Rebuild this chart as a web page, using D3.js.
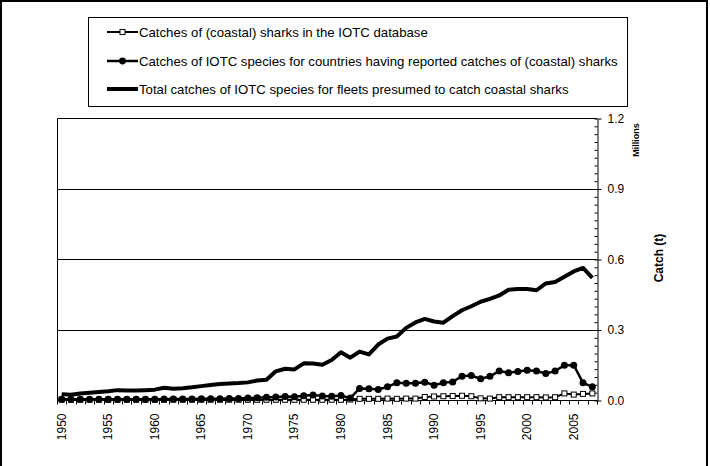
<!DOCTYPE html>
<html>
<head>
<meta charset="utf-8">
<script src="https://cdn.jsdelivr.net/npm/d3@7"></script>
<style>
  body { margin: 0; background: #fff; }
  svg { display: block; font-family: "Liberation Sans", Arial, sans-serif; }
</style>
</head>
<body>
<div id="chart"></div>
<script>
const years = d3.range(1950, 2008);

// catches in millions of tonnes
const coastalSharks = [
  0.001, 0.001, 0.001, 0.001, 0.001, 0.001, 0.001, 0.001, 0.001, 0.001,
  0.001, 0.001, 0.001, 0.001, 0.001, 0.001, 0.001, 0.001, 0.001, 0.001,
  0.001, 0.001, 0.001, 0.001, 0.001, 0.001, 0.001, 0.001, 0.001, 0.001,
  0.001, 0.002, 0.005, 0.005, 0.005, 0.006, 0.005, 0.006, 0.006, 0.013,
  0.015, 0.016, 0.017, 0.018, 0.016, 0.007, 0.006, 0.012, 0.012, 0.012,
  0.012, 0.012, 0.011, 0.012, 0.028, 0.023, 0.026, 0.028
];
const reportingCountries = [
  0.003, 0.003, 0.003, 0.003, 0.003, 0.003, 0.003, 0.003, 0.003, 0.003,
  0.003, 0.004, 0.004, 0.004, 0.004, 0.005, 0.005, 0.005, 0.006, 0.006,
  0.008, 0.010, 0.012, 0.013, 0.015, 0.014, 0.018, 0.021, 0.017, 0.016,
  0.019, 0.008, 0.049, 0.048, 0.045, 0.056, 0.073, 0.071, 0.071, 0.076,
  0.063, 0.073, 0.077, 0.101, 0.104, 0.090, 0.101, 0.123, 0.116, 0.121,
  0.127, 0.123, 0.113, 0.123, 0.148, 0.148, 0.073, 0.056
];
const presumedFleets = [
  0.025, 0.022, 0.028, 0.031, 0.034, 0.037, 0.042, 0.040, 0.040, 0.042,
  0.044, 0.052, 0.048, 0.050, 0.054, 0.059, 0.064, 0.068, 0.070, 0.072,
  0.075, 0.083, 0.086, 0.122, 0.133, 0.130, 0.156, 0.155, 0.150, 0.170,
  0.203, 0.180, 0.206, 0.194, 0.236, 0.261, 0.270, 0.307, 0.330, 0.345,
  0.334, 0.329, 0.357, 0.382, 0.399, 0.418, 0.430, 0.445, 0.469, 0.472,
  0.472, 0.467, 0.496, 0.502, 0.524, 0.547, 0.562, 0.520
];
const yTicks = [0, 0.3, 0.6, 0.9, 1.2];
const seriesNames = [
  "Catches of (coastal) sharks in the IOTC database",
  "Catches of IOTC species for countries having reported catches of (coastal) sharks",
  "Total catches of IOTC species for fleets presumed to catch coastal sharks"
];

const width = 710, height = 466;
const plot = { left: 57, right: 597, top: 118, bottom: 400 };

const svg = d3.select("#chart").append("svg")
  .attr("width", width)
  .attr("height", height);

// outer frame
svg.append("rect")
  .attr("x", 1).attr("y", 1)
  .attr("width", 706).attr("height", 470)
  .attr("fill", "none")
  .attr("stroke", "#000")
  .attr("stroke-width", 2);

const x = d3.scaleBand().domain(years).range([plot.left, plot.right]);
const y = d3.scaleLinear().domain([0, 1.2]).range([plot.bottom, plot.top]);
const cx = d => x(d) + x.bandwidth() / 2;

// gridlines
svg.append("g")
  .selectAll("line")
  .data(yTicks.filter(t => t > 0 && t < 1.2))
  .join("line")
  .attr("x1", plot.left).attr("x2", plot.right)
  .attr("y1", d => Math.round(y(d)) + 0.5)
  .attr("y2", d => Math.round(y(d)) + 0.5)
  .attr("stroke", "#000")
  .attr("stroke-width", 1);

// plot frame (left + top)
svg.append("path")
  .attr("d", `M${plot.left + 0.5},${plot.bottom}V${plot.top + 0.5}H${plot.right}`)
  .attr("fill", "none")
  .attr("stroke", "#000");

// right axis, minor ticks inside
svg.append("g")
  .attr("transform", `translate(${plot.right + 0.5},0.5)`)
  .call(d3.axisRight(y).tickValues(d3.range(0, 37).map(i => i * 1.2 / 36)).tickSize(-3).tickFormat(""))
  .call(g => g.select(".domain").remove());

const yAxis = svg.append("g")
  .attr("transform", `translate(${plot.right + 0.5},0.5)`)
  .call(d3.axisRight(y).tickValues(yTicks).tickSizeInner(4).tickSizeOuter(0).tickPadding(6).tickFormat(d3.format(".1f")));
yAxis.selectAll("text").attr("font-size", 12).attr("fill", "#000").attr("font-family", null);
yAxis.select(".domain").attr("stroke", "#000");

// bottom axis
const xAxis = svg.append("g")
  .attr("transform", `translate(0,${plot.bottom + 0.5})`);
xAxis.append("line")
  .attr("x1", plot.left).attr("x2", plot.right)
  .attr("stroke", "#000");
xAxis.selectAll(".tick")
  .data(years.concat([2008]))
  .join("line")
  .attr("class", "tick")
  .attr("x1", d => Math.round(d === 2008 ? plot.right : x(d)) + 0.5)
  .attr("x2", d => Math.round(d === 2008 ? plot.right : x(d)) + 0.5)
  .attr("y1", 0).attr("y2", 4)
  .attr("stroke", "#000");
xAxis.selectAll("text")
  .data(years.filter(d => d % 5 === 0))
  .join("text")
  .attr("transform", d => `translate(${cx(d) + 4},13) rotate(-90)`)
  .attr("text-anchor", "end")
  .attr("font-size", 12)
  .text(d => d);

// axis titles
svg.append("text")
  .attr("transform", "translate(639,140) rotate(-90)")
  .attr("text-anchor", "middle")
  .attr("font-size", 9)
  .attr("font-weight", "bold")
  .text("Millions");
svg.append("text")
  .attr("transform", "translate(663,258) rotate(-90)")
  .attr("text-anchor", "middle")
  .attr("font-size", 12)
  .attr("font-weight", "bold")
  .text("Catch (t)");

// series
const line = d3.line().x((d, i) => cx(years[i])).y(d => y(d));

svg.append("path")
  .datum(coastalSharks)
  .attr("fill", "none").attr("stroke", "#000").attr("stroke-width", 2)
  .attr("d", line);
svg.append("g").selectAll("rect")
  .data(coastalSharks)
  .join("rect")
  .attr("x", (d, i) => cx(years[i]) - 2.5)
  .attr("y", d => y(d) - 2.5)
  .attr("width", 5).attr("height", 5)
  .attr("fill", "#fff").attr("stroke", "#000").attr("stroke-width", 1);

svg.append("path")
  .datum(reportingCountries)
  .attr("fill", "none").attr("stroke", "#000").attr("stroke-width", 2.5)
  .attr("d", line);
svg.append("g").selectAll("circle")
  .data(reportingCountries)
  .join("circle")
  .attr("cx", (d, i) => cx(years[i]))
  .attr("cy", d => y(d))
  .attr("r", 3.5)
  .attr("fill", "#000");

svg.append("path")
  .datum(presumedFleets)
  .attr("fill", "none").attr("stroke", "#000").attr("stroke-width", 4)
  .attr("stroke-linejoin", "round")
  .attr("d", line);

// legend
const legend = svg.append("g");
legend.append("rect")
  .attr("x", 88.5).attr("y", 17.5)
  .attr("width", 539).attr("height", 89)
  .attr("fill", "#fff").attr("stroke", "#000");
const rowY = [32, 61, 89];
const row = legend.selectAll("g.row")
  .data(seriesNames)
  .join("g")
  .attr("class", "row")
  .attr("transform", (d, i) => `translate(0,${rowY[i]})`);
row.append("line")
  .attr("x1", 107).attr("x2", 138)
  .attr("stroke", "#000")
  .attr("stroke-width", (d, i) => [2, 2.5, 4][i]);
row.filter((d, i) => i === 0).append("rect")
  .attr("x", 120).attr("y", -2.5).attr("width", 5).attr("height", 5)
  .attr("fill", "#fff").attr("stroke", "#000");
row.filter((d, i) => i === 1).append("circle")
  .attr("cx", 122.5).attr("r", 3.4).attr("fill", "#000");
row.append("text")
  .attr("x", 139)
  .attr("dy", "0.36em")
  .attr("font-size", 13.2)
  .text(d => d);
</script>
</body>
</html>
